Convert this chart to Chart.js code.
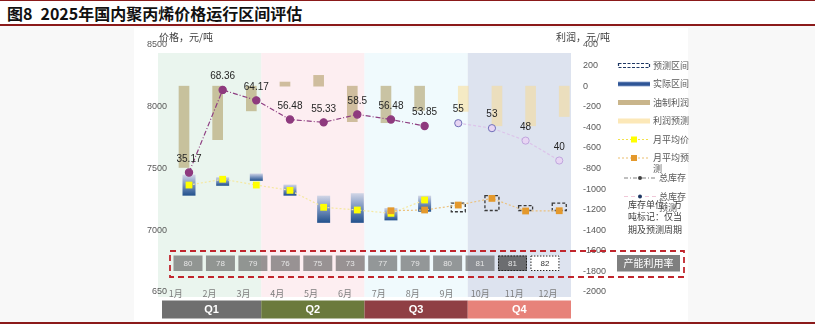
<!DOCTYPE html>
<html><head><meta charset="utf-8"><title>2025年国内聚丙烯价格运行区间评估</title>
<script src="https://cdn.jsdelivr.net/npm/chart.js@4/dist/chart.umd.min.js"></script>
<style>
html,body{margin:0;padding:0;background:#fff;}
#wrap{position:relative;width:815px;height:326px;overflow:hidden;background:#fff;}
#bg{position:absolute;left:0;top:26px;width:815px;height:296px;background:#F8F8F8;}
#panel{position:absolute;left:134px;top:28px;width:554px;height:293px;background:#fff;}
#topline{position:absolute;left:0;top:0;width:815px;height:1px;background:#8B1A1A;}
#title{position:absolute;left:7px;top:3px;font:bold 16px "Noto Sans CJK SC","Liberation Sans",sans-serif;color:#111;line-height:20px;white-space:nowrap;}
#tline{position:absolute;left:0;top:24px;width:815px;height:2px;background:#8B1A1A;}
#bline{position:absolute;left:0;top:322px;width:815px;height:2px;background:#8B1A1A;}
canvas{position:absolute;left:0;top:0;}
</style></head>
<body><div id="wrap">
<div id="bg"></div><div id="panel"></div>
<div id="topline"></div><div id="title">图8&ensp;2025年国内聚丙烯价格运行区间评估</div><div id="tline"></div><div id="bline"></div>
<canvas id="c" width="815" height="326"></canvas>
</div>
<script>
// ---------- data ----------
const months = ['1月','2月','3月','4月','5月','6月','7月','8月','9月','10月','11月','12月'];
const quarters = ['Q1','Q2','Q3','Q4'];
const rangeLow  = [7280,7360,7400,7280,7060,7060,7080,7150,null,null,null,null];
const rangeHigh = [7450,7430,7460,7370,7280,7300,7180,7280,null,null,null,null];
const forecastLow  = [null,null,null,null,null,null,null,null,7150,7160,7160,7160];
const forecastHigh = [null,null,null,null,null,null,null,null,7220,7280,7200,7220];
const avgPrice    = [7366,7413,7366,7323,7186,7164,7137,7245,null,null,null,null];
const avgForecast = [null,null,null,null,null,null,7158,7164,7204,7258,7156,7158];
const profit         = [-790,-520,-240,40,105,-345,-355,-235,null,null,null,null];
const profitForecast = [null,null,null,null,null,null,null,null,-245,-385,-385,-295];
const inventory         = [35.17,68.36,64.17,56.48,55.33,58.5,56.48,53.85,null,null,null,null];
const inventoryForecast = [null,null,null,null,null,null,null,null,55,53,48,40];
const capacity = [80,78,79,76,75,73,77,79,80,81,81,82];
const priceTicks = [6500,7000,7500,8000,8500];
const priceTickLabels = ['650','7000','7500','8000','8500'];
const profitTicks = [400,200,0,-200,-400,-600,-800,-1000,-1200,-1400,-1600,-1800,-2000];
const legendNames = ['预测区间','实际区间','油制利润','利润预测','月平均价',['月平均预','测'],'总库存',['总库存','预测']];
const noteLines = ['库存单位：万','吨标记：仅当','期及预测周期'];
const capacityLabel = '产能利用率';
const leftTitle = '价格，元/吨';
const rightTitle = '利润，元/吨';

// ---------- helpers ----------
const FONT = '"Liberation Sans","Noto Sans CJK SC",sans-serif';
const CJK = '"Noto Sans CJK SC","Liberation Sans",sans-serif';
Chart.defaults.font.family = FONT;
Chart.defaults.font.size = 9;
Chart.defaults.color = '#595959';
const pts = arr => arr.map((v,i)=> v==null?null:{x:i+1,y:v}).filter(Boolean);
const spans = (lo,hi) => lo.map((v,i)=> v==null?null:{x:i+1,y:[v,hi[i]]}).filter(Boolean);

const bandColors = ['#EAF5EE','#FDEEF1','#F0FAFD','#DDE3EF'];
const qColors = ['#6F6F6F','#6B7A3C','#8F3F44','#E7827A'];

function boxGradient(ctx){
  const c = ctx.chart;
  if(!c.chartArea || !ctx.raw) return '#3A64A0';
  const ys = c.scales.y;
  const top = ys.getPixelForValue(ctx.raw.y[1]), bot = ys.getPixelForValue(ctx.raw.y[0]);
  const g = c.ctx.createLinearGradient(0, top, 0, bot);
  g.addColorStop(0,'#D2D6E6'); g.addColorStop(0.45,'#7F98C2'); g.addColorStop(1,'#21508C');
  return g;
}

function legendIcon(ctx,k,x,y){
  ctx.save();
  switch(k){
    case 0: ctx.setLineDash([3,1.5]); ctx.strokeStyle='#1F3864'; ctx.lineWidth=1.2; ctx.strokeRect(x+0.5,y-2,31,4); break;
    case 1: ctx.fillStyle='#9DB1D6'; ctx.fillRect(x,y-2.5,32,5); ctx.fillStyle='#2E5596'; ctx.fillRect(x,y-1.7,32,3.4); break;
    case 2: ctx.fillStyle='#C9B58B'; ctx.fillRect(x,y-2.5,32,5); break;
    case 3: ctx.fillStyle='#FCE8B8'; ctx.fillRect(x,y-2.5,32,5); break;
    case 4: case 5: {
      ctx.setLineDash([2,2]); ctx.lineWidth=1; ctx.strokeStyle = k===4?'#F3E24A':'#EBBE6E';
      ctx.beginPath(); ctx.moveTo(x,y); ctx.lineTo(x+32,y); ctx.stroke();
      ctx.setLineDash([]); ctx.fillStyle = k===4?'#FFFF00':'#E4992C'; ctx.fillRect(x+13,y-3,6,6); break; }
    case 6: case 7: {
      ctx.setLineDash(k===6?[4,2,1,2]:[4,3]); ctx.lineWidth=1; ctx.strokeStyle = k===6?'#808080':'#F0C8D8';
      ctx.beginPath(); ctx.moveTo(x,y); ctx.lineTo(x+32,y); ctx.stroke();
      ctx.fillStyle = k===6?'#404040':'#1F3864'; ctx.beginPath(); ctx.arc(x+16,y,2,0,Math.PI*2); ctx.fill(); break; }
  }
  ctx.restore();
}

// quarter bands span the plot plus a small margin left of the value axis
function quarterBounds(a){
  const L = a.left-9, W = (a.right-L)/quarters.length;
  return quarters.map((q,i)=>[L+i*W, L+(i+1)*W]);
}

const overlay = {
  id:'overlay',
  beforeDraw(chart){
    const {ctx, chartArea:a} = chart;
    ctx.save();
    quarterBounds(a).forEach(([l,r],i)=>{
      ctx.fillStyle = bandColors[i];
      ctx.fillRect(l, a.top+8, r-l, a.bottom-a.top-3);
    });
    ctx.restore();
  },
  afterDatasetDraw(chart,args){
    if(args.index!==5) return;
    const ctx = chart.ctx;
    ctx.save(); ctx.setLineDash([3,2]); ctx.strokeStyle='#3A3A3A'; ctx.lineWidth=1.3;
    args.meta.data.forEach(el=>{
      const p = el.getProps(['x','y','base','width'],true);
      ctx.strokeRect(p.x-p.width/2, Math.min(p.y,p.base), p.width, Math.abs(p.base-p.y));
    });
    ctx.restore();
  },
  afterDatasetsDraw(chart){
    const ctx = chart.ctx;
    ctx.save();
    ctx.font = '10px '+FONT; ctx.fillStyle='#262626'; ctx.textAlign='center'; ctx.textBaseline='middle';
    [0,1].forEach(di=>{
      const ds = chart.data.datasets[di];
      chart.getDatasetMeta(di).data.forEach((el,j)=>{
        ctx.fillText(String(ds.data[j].y), el.x, el.y-13.5);
      });
    });
    ctx.restore();
  },
  afterDraw(chart){
    const {ctx, chartArea:a, scales} = chart;
    ctx.save();
    // month labels
    const xm = scales.xm;
    ctx.fillStyle='#7F7F7F'; ctx.font='9px '+CJK; ctx.textAlign='center'; ctx.textBaseline='middle';
    months.forEach((m,i)=> ctx.fillText(m, xm.getPixelForValue(i+1), a.bottom+1.5));
    // capacity table row
    const xc = scales.xc;
    const bw = 29, bh = 15.5, by = a.bottom-36.5;
    capacity.forEach((v,i)=>{
      const cx = xc.getPixelForValue(i+1);
      const last = i===capacity.length-1, nov = i===capacity.length-2;
      ctx.fillStyle = last ? '#FFFFFF' : (nov ? 'rgba(70,70,70,0.75)' : 'rgba(85,85,85,0.6)');
      ctx.fillRect(cx-bw/2, by, bw, bh);
      if(last||nov){ ctx.setLineDash([1.5,1.5]); ctx.strokeStyle='#222'; ctx.lineWidth=1; ctx.strokeRect(cx-bw/2+0.5, by+0.5, bw-1, bh-1); ctx.setLineDash([]); }
      ctx.fillStyle = last ? '#333' : '#E6E6E6';
      ctx.font = '8px '+FONT; ctx.textAlign='center'; ctx.textBaseline='middle';
      ctx.fillText(String(v), cx, by+bh/2+0.5);
    });
    // capacity label
    ctx.fillStyle='#7F7F7F'; ctx.fillRect(a.right+46, by-0.5, 63, 16.5);
    ctx.fillStyle='#FFFFFF'; ctx.font='10px '+CJK; ctx.textAlign='center'; ctx.textBaseline='middle';
    ctx.fillText(capacityLabel, a.right+77.5, by+7.8);
    // red dashed frame
    ctx.setLineDash([6,4]); ctx.strokeStyle='#C0262D'; ctx.lineWidth=1.8;
    ctx.strokeRect(a.left+3, a.bottom-41, a.right+113-(a.left+3), 26);
    ctx.setLineDash([]);
    // quarter boxes
    quarterBounds(a).forEach(([l,r],i)=>{
      if(i===0) l += 4;
      ctx.fillStyle = qColors[i]; ctx.fillRect(l, a.bottom+8.5, r-l, 18);
      ctx.fillStyle='#FFFFFF'; ctx.font='bold 11px '+FONT; ctx.textAlign='center'; ctx.textBaseline='middle';
      ctx.fillText(quarters[i], (l+r)/2, a.bottom+17.8);
    });
    // axis titles
    ctx.fillStyle='#404040'; ctx.font='10px '+CJK; ctx.textBaseline='middle';
    ctx.textAlign='left'; ctx.fillText(leftTitle, a.left-8, a.top-8);
    ctx.fillText(rightTitle, a.right-15, a.top-8);
    // legend
    const lx = a.right+47;
    let y = a.top+20.5;
    legendNames.forEach((name,k)=>{
      const ix = k>=6 ? lx+6 : lx;
      legendIcon(ctx,k,ix,y);
      ctx.fillStyle='#595959'; ctx.font='9px '+CJK; ctx.textAlign='left'; ctx.textBaseline='middle';
      const lines = Array.isArray(name)?name:[name];
      lines.forEach((t,m)=> ctx.fillText(t, ix+35, y+m*10.7));
      y += 18.5 + (k===5 ? 1.5 : 0);
    });
    // note
    ctx.fillStyle='#404040'; ctx.font='9px '+CJK; ctx.textAlign='left';
    noteLines.forEach((t,m)=> ctx.fillText(t, a.right+57, a.top+159.3+m*12.5));
    ctx.restore();
  }
};

new Chart(document.getElementById('c'), {
  type:'bar',
  data:{
    datasets:[
      {type:'line', label:'总库存', data:pts(inventory), xAxisID:'x', yAxisID:'yi', order:1,
       borderColor:'#8E3E82', borderWidth:1.2, borderDash:[5,2,1,2], pointRadius:3.6, pointBackgroundColor:'#8E3A7E', pointBorderColor:'#8E3A7E', tension:0},
      {type:'line', label:'总库存预测', data:pts(inventoryForecast), xAxisID:'x', yAxisID:'yi', order:2,
       borderColor:'#DCC4EA', borderWidth:1.2, borderDash:[3,2], pointRadius:3.6, pointBackgroundColor:'#E7D5F3',
       pointBorderColor:c=> c.dataIndex<2?'#6F6FB8':'#C0A6DE', pointBorderWidth:1, tension:0},
      {type:'line', label:'月平均预测', data:pts(avgForecast), xAxisID:'x', yAxisID:'y', order:3,
       borderColor:'#EBC27F', borderWidth:1.2, borderDash:[2,2], pointStyle:'rect', pointRadius:4.8, pointBackgroundColor:'#E4992C', pointBorderWidth:0, tension:0},
      {type:'line', label:'月平均价', data:pts(avgPrice), xAxisID:'x', yAxisID:'y', order:4,
       borderColor:'#F5E8A0', borderWidth:1.2, borderDash:[2,2], pointStyle:'rect', pointRadius:4.8, pointBackgroundColor:'#FFFF00', pointBorderWidth:0, tension:0},
      {type:'bar', label:'实际区间', data:spans(rangeLow,rangeHigh), xAxisID:'x', yAxisID:'y', order:6,
       grouped:false, maxBarThickness:13, backgroundColor:boxGradient, borderWidth:0},
      {type:'bar', label:'预测区间', data:spans(forecastLow,forecastHigh), xAxisID:'x', yAxisID:'y', order:7,
       grouped:false, maxBarThickness:14, backgroundColor:'rgba(255,255,255,0)', borderWidth:0},
      {type:'bar', label:'油制利润', data:pts(profit), xAxisID:'x', yAxisID:'yr', order:9,
       grouped:true, barThickness:10, backgroundColor:'rgba(170,150,90,0.55)', borderWidth:0},
      {type:'bar', label:'利润预测', data:pts(profitForecast), xAxisID:'x', yAxisID:'yr', order:10,
       grouped:true, barThickness:10, backgroundColor:'rgba(250,218,140,0.5)', borderWidth:0}
    ]
  },
  options:{
    responsive:false, animation:false, devicePixelRatio:1, events:[],
    layout:{padding:{left:145,right:204,top:45,bottom:34}},
    plugins:{legend:{display:false}, tooltip:{enabled:false}},
    scales:{
      x:{type:'linear', min:0.3464, max:12.349, offset:false, display:false},
      xc:{type:'linear', min:0.353, max:12.803, offset:false, display:false},
      xm:{type:'linear', min:0.743, max:12.678, offset:false, display:false},
      y:{type:'linear', position:'left', min:6500, max:8500,
         grid:{display:false, drawTicks:false}, border:{display:false},
         afterBuildTicks(s){ s.ticks = priceTicks.map(v=>({value:v})); },
         ticks:{padding:0, color:'#595959', font:{size:9}, callback:v=> priceTickLabels[priceTicks.indexOf(v)]},
         afterFit(s){ s.width = 22; }},
      yr:{type:'linear', position:'right', min:-2000, max:400,
         grid:{display:false, drawTicks:false}, border:{display:false},
         afterBuildTicks(s){ s.ticks = profitTicks.map(v=>({value:v})); },
         ticks:{padding:12, color:'#595959', font:{size:9}, callback:v=> String(v)},
         afterFit(s){ s.width = 40; }},
      yi:{type:'linear', display:false, min:-12.8, max:86.4}
    }
  },
  plugins:[overlay]
});
</script></body></html>
